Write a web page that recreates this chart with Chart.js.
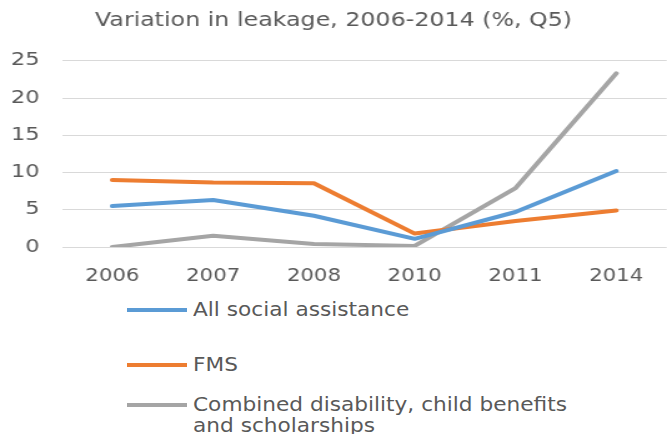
<!DOCTYPE html>
<html>
<head>
<meta charset="utf-8">
<script src="https://cdn.jsdelivr.net/npm/chart.js@4"></script>
<style>
  body { margin: 0; background: #fff; width: 667px; height: 434px; overflow: hidden; position: relative; }
  #wrap { position: absolute; left: 0; top: 0; width: 667px; height: 290px; }
  #legend { position: absolute; left: 127px; top: 299px; font-family: "DejaVu Sans", sans-serif; font-size: 19px; color: #595959; }
  .item { display: flex; align-items: flex-start; }
  .swatch { width: 60px; height: 4px; margin-right: 6px; flex: none; }
  .text { line-height: 21px; white-space: nowrap; transform: scaleX(1.14); transform-origin: left center; }
</style>
</head>
<body>
<div id="wrap"><canvas id="chart" width="534" height="290"></canvas></div>
<div id="legend"></div>
<script>
// DATA ------------------------------------------------------
const years = ["2006", "2007", "2008", "2010", "2011", "2014"];
const allSocial = [5.5, 6.3, 4.2, 1.1, 4.7, 10.2];
const fms = [9.0, 8.65, 8.55, 1.8, 3.5, 4.9];
const combined = [0.0, 1.5, 0.4, 0.15, 7.9, 23.3];
const seriesNames = ["All social assistance", "FMS", ["Combined disability, child benefits", "and scholarships"]];
const yTicks = [0, 5, 10, 15, 20, 25];

const textColor = '#595959';
const font = '"DejaVu Sans", sans-serif';

// CHART ------------------------------------------------------
const canvas = document.getElementById("chart");

const chartData = {
    labels: years,
    datasets: [
        { label: seriesNames[0], data: allSocial, borderColor: '#5b9bd5' },
        { label: seriesNames[1], data: fms, borderColor: '#ed7d31' },
        { label: seriesNames[2], data: combined, borderColor: '#a5a5a5' }
    ].map(d => Object.assign(d, {
        borderWidth: 4,
        pointRadius: 0,
        tension: 0,
        fill: false,
        borderCapStyle: 'round',
        borderJoinStyle: 'round'
    }))
};

const chartOptions = {
    responsive: false,
    animation: false,
    devicePixelRatio: 1,
    layout: { padding: 0 },
    scales: {
        x: {
            offset: true,
            grid: { display: false, drawTicks: false },
            border: { display: false },
            ticks: { color: textColor, font: { family: font, size: 17 }, padding: 19, maxRotation: 0 },
            afterFit: s => { s.height = 43; }
        },
        y: {
            min: 0,
            max: 25,
            afterBuildTicks: s => { s.ticks = yTicks.map(v => ({ value: v })); },
            grid: { color: '#d9d9d9', lineWidth: 1, drawTicks: false },
            border: { display: false },
            ticks: { color: textColor, font: { family: font, size: 18 }, padding: 18 },
            afterFit: s => { s.width = 49.6; }
        }
    },
    plugins: {
        legend: { display: false },
        tooltip: { enabled: false },
        title: {
            display: true,
            text: "Variation in leakage, 2006-2014 (%, Q5)",
            color: textColor,
            font: { family: font, size: 19, weight: 'normal' },
            padding: { top: 10, bottom: 28 }
        }
    }
};

const chart = new Chart(canvas, {
    type: 'line',
    data: chartData,
    options: chartOptions
});

// the source picture is stretched sideways, so the canvas is drawn narrower and widened
canvas.style.width = "667px";
canvas.style.height = "290px";

// LEGEND ------------------------------------------------------
const legend = document.getElementById("legend");
const gaps = [0, 34, 19];
chart.data.datasets.forEach((d, i) => {
    const item = document.createElement("div");
    item.className = "item";
    item.style.marginTop = gaps[i] + "px";
    const sw = document.createElement("div");
    sw.className = "swatch";
    sw.style.background = d.borderColor;
    sw.style.marginTop = "9px";
    const tx = document.createElement("div");
    tx.className = "text";
    [].concat(d.label).forEach(line => {
        const l = document.createElement("div");
        l.textContent = line;
        tx.appendChild(l);
    });
    item.appendChild(sw);
    item.appendChild(tx);
    legend.appendChild(item);
});
</script>
</body>
</html>
